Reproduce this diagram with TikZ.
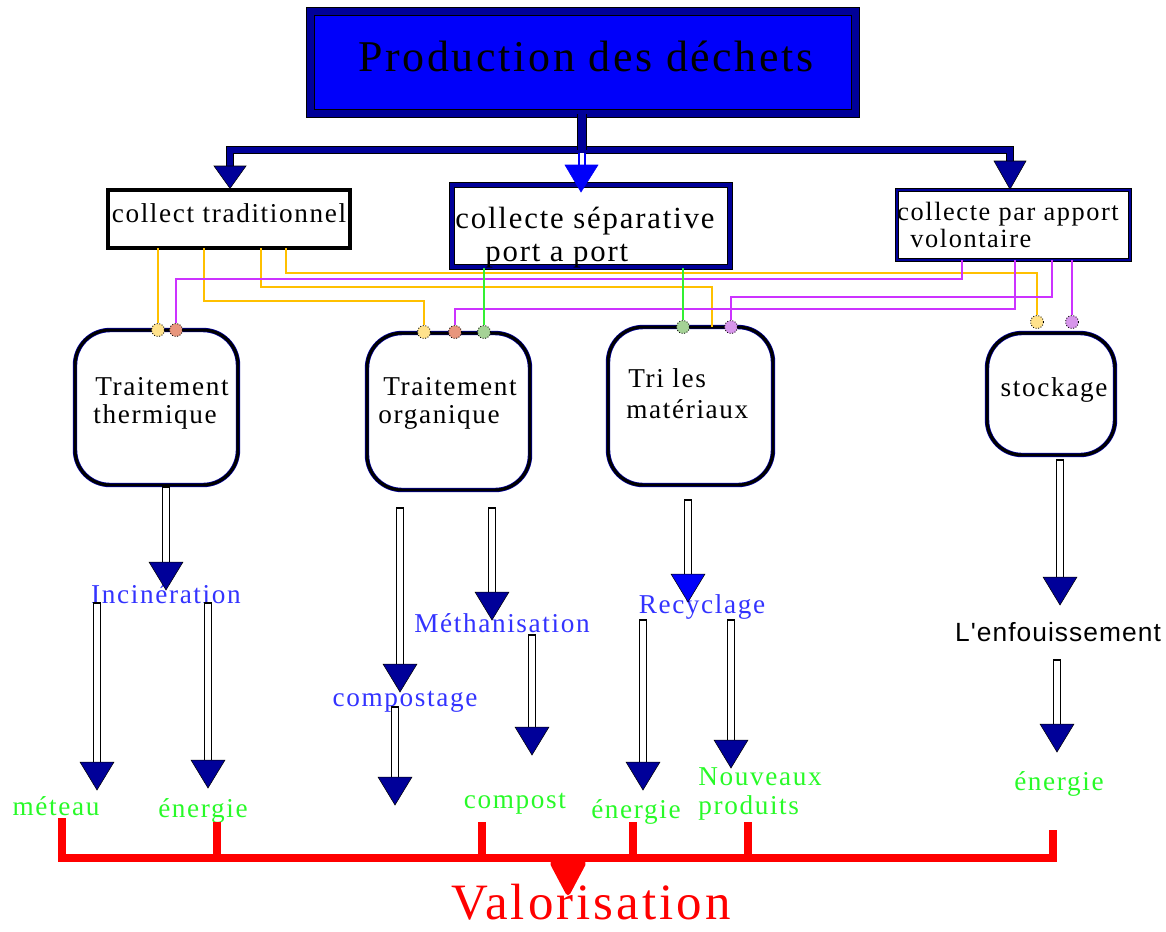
\documentclass[tikz,border=0pt]{standalone}
\usepackage{fontspec}
\setmainfont{Liberation Serif}
\newfontfamily\lsf[LetterSpace=6]{Liberation Serif}
\newfontfamily\lsb[LetterSpace=4]{Liberation Sans}
\usetikzlibrary{calc}
\definecolor{navy}{RGB}{0,0,153}
\definecolor{boxblue}{RGB}{0,0,250}
\definecolor{txtblue}{RGB}{51,51,255}
\definecolor{txtgreen}{RGB}{40,250,40}
\definecolor{conorange}{RGB}{255,192,0}
\definecolor{conpurple}{RGB}{204,51,255}
\definecolor{congreen}{RGB}{51,240,51}
\definecolor{dotY}{RGB}{255,226,140}
\definecolor{dotS}{RGB}{232,150,125}
\definecolor{dotG}{RGB}{165,210,150}
\definecolor{dotV}{RGB}{215,150,235}
\definecolor{vred}{RGB}{255,0,0}
\newcommand{\hollowarr}[3][navy]{%
  \filldraw[fill=white,draw=black,line width=0.6pt] ($(#2)+(-3.5,0)$) rectangle ($(#3)+(3.5,-26)$);
  \filldraw[fill=#1,draw=black,line width=0.3pt,line join=miter] ($(#3)+(-17,-28)$) -- ($(#3)+(17,-28)$) -- (#3) -- cycle;
}
\tikzset{
  txt/.style={inner sep=0pt, font=\lsf\fontsize{15.5}{17.5}\selectfont, text=black},
  btxt/.style={txt, text=txtblue},
  gtxt/.style={txt, text=txtgreen},
  prodbox/.style={draw=black, double=navy, double distance=3.8pt, line width=0.6pt, fill=boxblue, inner sep=0pt},
  tradbox/.style={draw=black, line width=1.8pt, inner sep=0pt},
  sepbox/.style={draw=black, double=navy, double distance=2.2pt, line width=0.7pt, inner sep=0pt},
  volbox/.style={draw=black, double=navy, double distance=0.9pt, line width=0.9pt, inner sep=0pt},
  roundbox/.style={rounded corners=0.7cm, draw=black, line width=1.7pt, inner sep=0pt,
     preaction={draw=navy, line width=2.5pt}},
  dot/.style={circle, minimum size=0.26cm, inner sep=0pt, draw=black, densely dotted, line width=0.5pt},
  con/.style={line width=1.1pt},
  navyfork/.style={draw=black, double=navy, line width=0.4pt, line join=miter},
  redline/.style={draw=vred, line width=4.5pt, line join=miter},
}
\begin{document}
\begin{tikzpicture}[x=0.02cm,y=-0.02cm]
\useasboundingbox (0,0) rectangle (1166,931);

% ---------- top box
\node[prodbox, minimum width=10.9cm, minimum height=2.05cm] (prod) at (583,62.5) {};
\node[inner sep=0pt, font=\lsf\fontsize{25}{28}\selectfont, anchor=base] (prodt) at (586,71) {Production des déchets};

% ---------- level 2 boxes
\node[tradbox, minimum width=4.84cm, minimum height=1.16cm] (trad) at (229,219) {};
\node[txt, anchor=base] (tradt) at (229,222) {collect traditionnel};
\node[sepbox, minimum width=5.56cm, minimum height=1.64cm] (sep) at (591,226) {};
\node[txt, font=\lsf\fontsize{17.5}{18.7}\selectfont, anchor=base west] (sept1) at (455,228) {collecte séparative};
\node[txt, font=\lsf\fontsize{17.5}{18.7}\selectfont, anchor=base west] (sept2) at (485,261) {port a port};
\node[volbox, minimum width=4.66cm, minimum height=1.4cm] (vol) at (1013.5,225) {};
\node[txt, font=\lsf\fontsize{15}{15.3}\selectfont, anchor=base west] (volt1) at (897,220) {collecte par apport};
\node[txt, font=\lsf\fontsize{15}{15.3}\selectfont, anchor=base west] (volt2) at (910,247) {volontaire};

% ---------- fork from top box
\coordinate (fl) at (230,168);
\coordinate (fr) at (1010,163);
\coordinate (fk) at (582,150);
\draw[navyfork, double distance=3.6pt] (fl) -- (230,150) -- (1010,150) -- (fr);
\draw[navyfork, double distance=5pt] (prod.south -| fk) -- (fk);
\filldraw[fill=navy,draw=black,line width=0.3pt] (214,166) -- (246,166) -- (trad.north -| fl) -- cycle;
\filldraw[fill=navy,draw=black,line width=0.3pt] (994,161) -- (1026,161) -- (vol.north -| fr) -- cycle;
\draw[draw=boxblue, double=white, double distance=2.5pt, line width=0.8pt] (582,153) -- (582,167);
\filldraw[fill=boxblue,draw=boxblue,line width=0.3pt] (565,165) -- (598,165) -- (581,192) -- cycle;

% ---------- rounded boxes
\node[roundbox, minimum width=3.26cm, minimum height=3.1cm] (therm) at (156.5,407.5) {};
\node[txt, anchor=base west] (thermt1) at (95,395) {Traitement};
\node[txt, anchor=base west] (thermt2) at (93,423) {thermique};
\node[roundbox, minimum width=3.26cm, minimum height=3.14cm] (org) at (448.5,411.5) {};
\node[txt, anchor=base west] (orgt1) at (383,395) {Traitement};
\node[txt, anchor=base west] (orgt2) at (378,423) {organique};
\node[roundbox, minimum width=3.3cm, minimum height=3.16cm] (tri) at (690.5,406) {};
\node[txt, anchor=base west] (trit1) at (628,387) {Tri les};
\node[txt, anchor=base west] (trit2) at (626,418) {matériaux};
\node[roundbox, minimum width=2.56cm, minimum height=2.44cm] (stock) at (1051,394) {};
\node[txt, anchor=base] (stockt) at (1054,396) {stockage};

% ---------- dots
\node[dot, fill=dotY] (dt1) at (158,330) {};
\node[dot, fill=dotS] (dt2) at (176,330) {};
\node[dot, fill=dotY] (do1) at (424,332) {};
\node[dot, fill=dotS] (do2) at (455,332) {};
\node[dot, fill=dotG] (do3) at (484,332) {};
\node[dot, fill=dotG] (dr1) at (683,327) {};
\node[dot, fill=dotV] (dr2) at (731,327) {};
\node[dot, fill=dotY] (ds1) at (1037,322) {};
\node[dot, fill=dotV] (ds2) at (1072,322) {};
\coordinate (tri3) at (712,327);

% ---------- connectors
\coordinate (c1) at (158,248);
\coordinate (c2) at (204,248);
\coordinate (c3) at (261,248);
\coordinate (c4) at (286,248);
\coordinate (p1) at (962,260);
\coordinate (p2) at (1015,260);
\coordinate (p3) at (1052,260);
\coordinate (p4) at (1072,260);
\coordinate (g1) at (484,268);
\coordinate (g2) at (683,268);
\draw[con, conorange] (c1) -- (dt1);
\draw[con, conorange] (c2) -- (204,301) -| (do1);
\draw[con, conorange] (c3) -- (261,287) -| (tri3);
\draw[con, conorange] (c4) -- (286,273) -| (ds1);
\draw[con, conpurple] (p1) -- (962,279) -| (dt2);
\draw[con, conpurple] (p2) -- (1015,309) -| (do2);
\draw[con, conpurple] (p3) -- (1052,297) -| (dr2);
\draw[con, conpurple] (p4) -- (ds2);
\draw[con, congreen] (g1) -- (do3);
\draw[con, congreen] (g2) -- (dr1);

% ---------- lower texts
\node[btxt, anchor=base] (inc) at (166,603) {Incinération};
\node[btxt, anchor=base] (meth) at (502,632) {Méthanisation};
\node[btxt, anchor=base] (compg) at (405,706) {compostage};
\node[btxt, anchor=base] (recy) at (702,613) {Recyclage};
\node[inner sep=0pt, font=\lsb\fontsize{15}{17}\selectfont, anchor=base] (enf) at (1058,641) {L'enfouissement};
\node[gtxt, anchor=base] (met) at (56,815) {méteau};
\node[gtxt, anchor=base] (en1) at (203,817) {énergie};
\node[gtxt, anchor=base] (comp) at (515,808) {compost};
\node[gtxt, anchor=base] (en2) at (636,818) {énergie};
\node[gtxt, anchor=base west] (nouv1) at (698,785) {Nouveaux};
\node[gtxt, anchor=base west] (nouv2) at (698,814) {produits};
\node[gtxt, anchor=base] (en3) at (1059,790) {énergie};

% ---------- hollow arrows
\coordinate (a1s) at (166,487);  \coordinate (a1t) at (166,590);
\coordinate (a2s) at (97,603);   \coordinate (a2t) at (97,790);
\coordinate (a3s) at (208,603);  \coordinate (a3t) at (208,788);
\coordinate (a4s) at (400,508);  \coordinate (a4t) at (400,692);
\coordinate (a5s) at (395,707);  \coordinate (a5t) at (395,805);
\coordinate (a6s) at (492,508);  \coordinate (a6t) at (492,620);
\coordinate (a7s) at (532,635);  \coordinate (a7t) at (532,755);
\coordinate (a8s) at (688,500);  \coordinate (a8t) at (688,602);
\coordinate (a9s) at (643,620);  \coordinate (a9t) at (643,790);
\coordinate (a10s) at (731,620); \coordinate (a10t) at (731,768);
\coordinate (a11s) at (1060,460); \coordinate (a11t) at (1060,605);
\coordinate (a12s) at (1057,660); \coordinate (a12t) at (1057,752);
\hollowarr{a1s}{a1t}
\hollowarr{a2s}{a2t}
\hollowarr{a3s}{a3t}
\hollowarr{a4s}{a4t}
\hollowarr{a5s}{a5t}
\hollowarr{a6s}{a6t}
\hollowarr{a7s}{a7t}
\hollowarr[boxblue]{a8s}{a8t}
\hollowarr{a9s}{a9t}
\hollowarr{a10s}{a10t}
\hollowarr{a11s}{a11t}
\hollowarr{a12s}{a12t}

% ---------- valorisation bracket
\coordinate (r1) at (62,818);  \coordinate (b1) at (62,858);
\coordinate (r2) at (217,822);
\coordinate (r3) at (482,822);
\coordinate (r4) at (633,822);
\coordinate (r5) at (748,822);
\coordinate (r6) at (1053,830); \coordinate (b6) at (1053,858);
\coordinate (vt) at (568,858);
\draw[redline] (r1) -- (b1) -- (b6) -- (r6);
\draw[redline] (r2) -- (r2 |- b1);
\draw[redline] (r3) -- (r3 |- b1);
\draw[redline] (r4) -- (r4 |- b1);
\draw[redline] (r5) -- (r5 |- b1);
\node[inner sep=0pt, text depth=0pt, text=vred, font=\lsf\fontsize{29}{31}\selectfont, anchor=base] (valo) at (591,919) {Valorisation};
\filldraw[fill=vred, draw=vred, line width=1pt, rounded corners=2pt] ($(vt)+(-18,4)$) -- ($(vt)+(18,4)$) -- ($(vt)+(0,38)$) -- cycle;
\end{tikzpicture}
\end{document}
